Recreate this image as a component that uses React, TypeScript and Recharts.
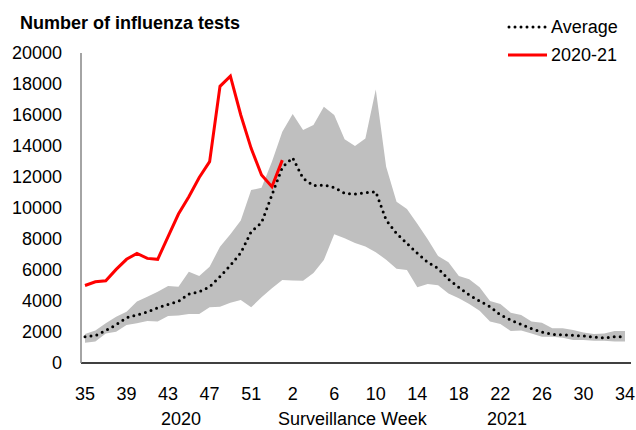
import { ComposedChart, Area, Line, XAxis, YAxis } from 'recharts';

const weeks = [
  '35', '36', '37', '38', '39', '40', '41', '42', '43', '44', '45', '46', '47', '48', '49', '50', '51', '52', '53',
  '1', '2', '3', '4', '5', '6', '7', '8', '9', '10', '11', '12', '13', '14', '15', '16', '17', '18', '19', '20',
  '21', '22', '23', '24', '25', '26', '27', '28', '29', '30', '31', '32', '33', '34',
];

const average = [
  1700, 1760, 2090, 2470, 2920, 3100, 3290, 3570, 3780, 3980, 4450, 4600, 4920, 5570, 6300, 7110, 8470, 9050, 10840,
  12620, 13240, 11910, 11440, 11480, 11320, 10950, 10900, 10990, 11050, 9220, 8360, 7720, 7080, 6500, 6100, 5400,
  4880, 4390, 4000, 3630, 3100, 2770, 2490, 2210, 2000, 1850, 1810, 1790, 1740, 1680, 1610, 1700, 1700,
];

const season2020 = [
  5000, 5240, 5310, 6040, 6690, 7070, 6750, 6690, 8150, 9610, 10730, 11970, 12990, 17850, 18510, 16000, 13850,
  12130, 11370, 13090,
];

const bandLow = [
  1310, 1380, 1910, 2020, 2450, 2560, 2710, 2670, 3030, 3070, 3160, 3160, 3590, 3630, 3890, 4060, 3590, 4240, 4820,
  5350, 5320, 5300, 5800, 6640, 8300, 8050, 7740, 7520, 7150, 6660, 6080, 6000, 4880, 5100, 5020, 4480, 4170, 3810,
  3370, 2670, 2520, 2060, 2090, 1910, 1700, 1700, 1630, 1480, 1480, 1440, 1440, 1380, 1380,
];

const bandHigh = [
  1870, 2090, 2560, 2990, 3310, 3960, 4280, 4600, 4970, 4920, 5890, 5610, 6210, 7500, 8300, 9200, 11160, 11300,
  12990, 14920, 16060, 15030, 15350, 16530, 16000, 14430, 14000, 14490, 17650, 12660, 10400, 9940, 8990, 7980, 6900,
  6500, 5610, 5400, 4880, 4000, 3810, 3250, 3100, 2670, 2600, 2240, 2240, 2130, 1960, 1870, 1910, 2060, 2060,
];

const yTicks = [0, 2000, 4000, 6000, 8000, 10000, 12000, 14000, 16000, 18000, 20000];

const data = weeks.map((week, i) => ({
  week,
  range: [bandLow[i], bandHigh[i]],
  average: average[i],
  season: i < season2020.length ? season2020[i] : null,
}));

const FONT = '"Liberation Sans", Arial, sans-serif';
const tickStyle = { fontSize: 18, fill: '#000', fontFamily: FONT };

const textStyle: React.CSSProperties = {
  position: 'absolute',
  fontFamily: FONT,
  fontSize: 18,
  color: '#000',
  whiteSpace: 'nowrap',
  lineHeight: '18px',
};

export default function App() {
  return (
    <div style={{ position: 'absolute', left: 0, top: 0, width: 636, height: 430, background: '#fff' }}>
      <ComposedChart width={636} height={430} data={data} margin={{ top: 53, right: 5, bottom: 37, left: 0 }}>
        <XAxis
          dataKey="week"
          interval={3}
          padding={{ left: 4, right: 6 }}
          tickLine={false}
          axisLine={{ stroke: '#000', strokeWidth: 1.5 }}
          tick={tickStyle}
          tickMargin={18}
          height={30}
        />
        <YAxis
          domain={[0, 20000]}
          ticks={yTicks}
          interval={0}
          tickLine={false}
          axisLine={{ stroke: '#868686', strokeWidth: 1.5 }}
          tick={tickStyle}
          tickMargin={13}
          width={81}
        />
        <Area
          dataKey="range"
          fill="#bfbfbf"
          fillOpacity={1}
          stroke="none"
          isAnimationActive={false}
          activeDot={false}
        />
        <Line
          dataKey="average"
          stroke="#000"
          strokeWidth={3}
          strokeDasharray="0 6"
          strokeLinecap="round"
          dot={false}
          activeDot={false}
          isAnimationActive={false}
        />
        <Line
          dataKey="season"
          stroke="#ff0000"
          strokeWidth={3}
          dot={false}
          activeDot={false}
          connectNulls={false}
          isAnimationActive={false}
        />
      </ComposedChart>

      <div style={{ ...textStyle, left: 20, top: 14, fontWeight: 'bold' }}>Number of influenza tests</div>

      <svg style={{ position: 'absolute', left: 505, top: 18 }} width={46} height={46}>
        <line x1={4} y1={9} x2={42} y2={9} stroke="#000" strokeWidth={3} strokeDasharray="0 6" strokeLinecap="round" />
        <line x1={3} y1={37} x2={42} y2={37} stroke="#ff0000" strokeWidth={3} />
      </svg>
      <div style={{ ...textStyle, left: 551, top: 18 }}>Average</div>
      <div style={{ ...textStyle, left: 551, top: 46 }}>2020-21</div>

      <div style={{ ...textStyle, left: 161, top: 410 }}>2020</div>
      <div style={{ ...textStyle, left: 278, top: 410 }}>Surveillance Week</div>
      <div style={{ ...textStyle, left: 487, top: 410 }}>2021</div>
    </div>
  );
}
